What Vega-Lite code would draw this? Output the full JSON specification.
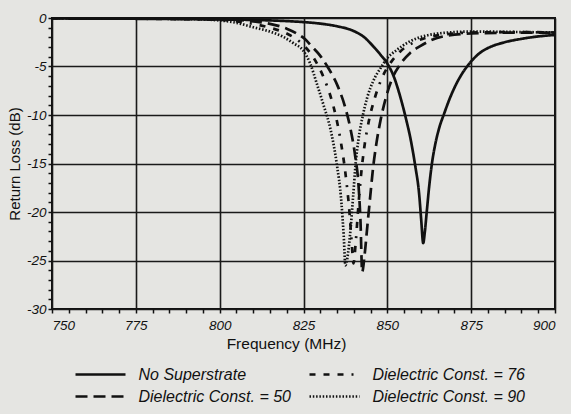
{
  "$schema": "https://vega.github.io/schema/vega-lite/v6.json",
  "autosize": {"type": "none"},
  "width": 503,
  "height": 291,
  "padding": {"left": 52, "top": 18, "right": 16, "bottom": 105},
  "background": "#e5e5e2",
  "config": {
    "view": {"stroke": "#111", "strokeWidth": 2},
    "axis": {
      "labelFont": "Liberation Sans",
      "labelFontStyle": "italic",
      "labelFontSize": 13.5,
      "labelColor": "#111",
      "titleFont": "Liberation Sans",
      "titleFontWeight": "normal",
      "titleColor": "#111",
      "tickColor": "#111",
      "tickWidth": 1.5,
      "gridColor": "#1a1a1a",
      "gridWidth": 1.6,
      "domain": false
    }
  },
  "data": {
    "values": [
      {"s": "No Superstrate", "f": 750, "rl": -0.05},
      {"s": "No Superstrate", "f": 775, "rl": -0.08},
      {"s": "No Superstrate", "f": 800, "rl": -0.15},
      {"s": "No Superstrate", "f": 810, "rl": -0.2},
      {"s": "No Superstrate", "f": 820, "rl": -0.32},
      {"s": "No Superstrate", "f": 825, "rl": -0.42},
      {"s": "No Superstrate", "f": 830, "rl": -0.58},
      {"s": "No Superstrate", "f": 835, "rl": -0.85},
      {"s": "No Superstrate", "f": 840, "rl": -1.35},
      {"s": "No Superstrate", "f": 843, "rl": -1.95},
      {"s": "No Superstrate", "f": 846, "rl": -3.0},
      {"s": "No Superstrate", "f": 848, "rl": -3.8},
      {"s": "No Superstrate", "f": 850, "rl": -4.7},
      {"s": "No Superstrate", "f": 852, "rl": -6.1},
      {"s": "No Superstrate", "f": 854, "rl": -8.3},
      {"s": "No Superstrate", "f": 855.5, "rl": -10.3},
      {"s": "No Superstrate", "f": 857, "rl": -12.6},
      {"s": "No Superstrate", "f": 858.3, "rl": -15.2},
      {"s": "No Superstrate", "f": 859.5, "rl": -18.2},
      {"s": "No Superstrate", "f": 860.1, "rl": -20.8},
      {"s": "No Superstrate", "f": 860.7, "rl": -23.2},
      {"s": "No Superstrate", "f": 861.2, "rl": -22.0},
      {"s": "No Superstrate", "f": 861.8, "rl": -19.8},
      {"s": "No Superstrate", "f": 862.5, "rl": -17.3},
      {"s": "No Superstrate", "f": 863.3, "rl": -15.0},
      {"s": "No Superstrate", "f": 864.3, "rl": -13.0},
      {"s": "No Superstrate", "f": 865.5, "rl": -11.3},
      {"s": "No Superstrate", "f": 867, "rl": -9.8},
      {"s": "No Superstrate", "f": 868.5, "rl": -8.4},
      {"s": "No Superstrate", "f": 870, "rl": -7.2},
      {"s": "No Superstrate", "f": 872, "rl": -5.9},
      {"s": "No Superstrate", "f": 874, "rl": -4.9},
      {"s": "No Superstrate", "f": 876, "rl": -4.1},
      {"s": "No Superstrate", "f": 878, "rl": -3.5},
      {"s": "No Superstrate", "f": 880, "rl": -3.1},
      {"s": "No Superstrate", "f": 885, "rl": -2.5},
      {"s": "No Superstrate", "f": 890, "rl": -2.15},
      {"s": "No Superstrate", "f": 895, "rl": -1.9},
      {"s": "No Superstrate", "f": 900, "rl": -1.75},

      {"s": "Dielectric Const. = 90", "f": 750, "rl": -0.02},
      {"s": "Dielectric Const. = 90", "f": 790, "rl": -0.1},
      {"s": "Dielectric Const. = 90", "f": 800, "rl": -0.25},
      {"s": "Dielectric Const. = 90", "f": 805, "rl": -0.5},
      {"s": "Dielectric Const. = 90", "f": 810, "rl": -0.95},
      {"s": "Dielectric Const. = 90", "f": 815, "rl": -1.4},
      {"s": "Dielectric Const. = 90", "f": 819, "rl": -1.95},
      {"s": "Dielectric Const. = 90", "f": 822, "rl": -2.6},
      {"s": "Dielectric Const. = 90", "f": 825, "rl": -3.4},
      {"s": "Dielectric Const. = 90", "f": 827, "rl": -4.7},
      {"s": "Dielectric Const. = 90", "f": 829, "rl": -6.8},
      {"s": "Dielectric Const. = 90", "f": 831, "rl": -9.0},
      {"s": "Dielectric Const. = 90", "f": 833, "rl": -11.4},
      {"s": "Dielectric Const. = 90", "f": 834.9, "rl": -15},
      {"s": "Dielectric Const. = 90", "f": 836.3, "rl": -19},
      {"s": "Dielectric Const. = 90", "f": 837, "rl": -22.5},
      {"s": "Dielectric Const. = 90", "f": 837.5, "rl": -25.5},
      {"s": "Dielectric Const. = 90", "f": 838.3, "rl": -24.2},
      {"s": "Dielectric Const. = 90", "f": 839.1, "rl": -21.5},
      {"s": "Dielectric Const. = 90", "f": 839.8, "rl": -18.4},
      {"s": "Dielectric Const. = 90", "f": 840.5, "rl": -15.2},
      {"s": "Dielectric Const. = 90", "f": 841.4, "rl": -12.5},
      {"s": "Dielectric Const. = 90", "f": 842.6, "rl": -10.2},
      {"s": "Dielectric Const. = 90", "f": 844, "rl": -8.2},
      {"s": "Dielectric Const. = 90", "f": 845.8, "rl": -6.5},
      {"s": "Dielectric Const. = 90", "f": 848.3, "rl": -5.0},
      {"s": "Dielectric Const. = 90", "f": 849.6, "rl": -4.3},
      {"s": "Dielectric Const. = 90", "f": 852.8, "rl": -3.3},
      {"s": "Dielectric Const. = 90", "f": 856.8, "rl": -2.4},
      {"s": "Dielectric Const. = 90", "f": 861.7, "rl": -1.8},
      {"s": "Dielectric Const. = 90", "f": 865, "rl": -1.6},
      {"s": "Dielectric Const. = 90", "f": 875, "rl": -1.4},
      {"s": "Dielectric Const. = 90", "f": 890, "rl": -1.45},
      {"s": "Dielectric Const. = 90", "f": 900, "rl": -1.5},

      {"s": "Dielectric Const. = 50", "f": 750, "rl": -0.02},
      {"s": "Dielectric Const. = 50", "f": 800, "rl": -0.12},
      {"s": "Dielectric Const. = 50", "f": 810, "rl": -0.35},
      {"s": "Dielectric Const. = 50", "f": 815, "rl": -0.6},
      {"s": "Dielectric Const. = 50", "f": 820, "rl": -1.1},
      {"s": "Dielectric Const. = 50", "f": 823, "rl": -1.6},
      {"s": "Dielectric Const. = 50", "f": 825.5, "rl": -2.2},
      {"s": "Dielectric Const. = 50", "f": 827.4, "rl": -2.9},
      {"s": "Dielectric Const. = 50", "f": 830, "rl": -3.9},
      {"s": "Dielectric Const. = 50", "f": 832.3, "rl": -5.1},
      {"s": "Dielectric Const. = 50", "f": 835.3, "rl": -7.1},
      {"s": "Dielectric Const. = 50", "f": 837.6, "rl": -9.4},
      {"s": "Dielectric Const. = 50", "f": 839, "rl": -11.4},
      {"s": "Dielectric Const. = 50", "f": 840.4, "rl": -14.2},
      {"s": "Dielectric Const. = 50", "f": 841.4, "rl": -17.2},
      {"s": "Dielectric Const. = 50", "f": 842, "rl": -21},
      {"s": "Dielectric Const. = 50", "f": 842.5, "rl": -26.2},
      {"s": "Dielectric Const. = 50", "f": 843.2, "rl": -24.5},
      {"s": "Dielectric Const. = 50", "f": 844, "rl": -21.6},
      {"s": "Dielectric Const. = 50", "f": 844.9, "rl": -18.4},
      {"s": "Dielectric Const. = 50", "f": 845.7, "rl": -15.6},
      {"s": "Dielectric Const. = 50", "f": 846.8, "rl": -12.8},
      {"s": "Dielectric Const. = 50", "f": 848, "rl": -10.5},
      {"s": "Dielectric Const. = 50", "f": 849.5, "rl": -8.3},
      {"s": "Dielectric Const. = 50", "f": 851.5, "rl": -6.2},
      {"s": "Dielectric Const. = 50", "f": 853.8, "rl": -4.8},
      {"s": "Dielectric Const. = 50", "f": 856.8, "rl": -3.6},
      {"s": "Dielectric Const. = 50", "f": 859.8, "rl": -2.9},
      {"s": "Dielectric Const. = 50", "f": 863, "rl": -2.3},
      {"s": "Dielectric Const. = 50", "f": 866.6, "rl": -1.9},
      {"s": "Dielectric Const. = 50", "f": 875, "rl": -1.6},
      {"s": "Dielectric Const. = 50", "f": 890, "rl": -1.5},
      {"s": "Dielectric Const. = 50", "f": 900, "rl": -1.5},

      {"s": "Dielectric Const. = 76", "f": 750, "rl": -0.02},
      {"s": "Dielectric Const. = 76", "f": 800, "rl": -0.18},
      {"s": "Dielectric Const. = 76", "f": 805, "rl": -0.35},
      {"s": "Dielectric Const. = 76", "f": 810, "rl": -0.6},
      {"s": "Dielectric Const. = 76", "f": 815, "rl": -1.0},
      {"s": "Dielectric Const. = 76", "f": 820, "rl": -1.6},
      {"s": "Dielectric Const. = 76", "f": 823, "rl": -2.2},
      {"s": "Dielectric Const. = 76", "f": 825, "rl": -2.8},
      {"s": "Dielectric Const. = 76", "f": 827, "rl": -3.6},
      {"s": "Dielectric Const. = 76", "f": 829.5, "rl": -5.0},
      {"s": "Dielectric Const. = 76", "f": 832, "rl": -7.0},
      {"s": "Dielectric Const. = 76", "f": 834, "rl": -9.2},
      {"s": "Dielectric Const. = 76", "f": 836, "rl": -12.5},
      {"s": "Dielectric Const. = 76", "f": 837.5, "rl": -16},
      {"s": "Dielectric Const. = 76", "f": 838.7, "rl": -20},
      {"s": "Dielectric Const. = 76", "f": 839.4, "rl": -23.3},
      {"s": "Dielectric Const. = 76", "f": 839.9, "rl": -25.3},
      {"s": "Dielectric Const. = 76", "f": 840.6, "rl": -23},
      {"s": "Dielectric Const. = 76", "f": 841.3, "rl": -19.7},
      {"s": "Dielectric Const. = 76", "f": 842.1, "rl": -16.4},
      {"s": "Dielectric Const. = 76", "f": 843.1, "rl": -13.4},
      {"s": "Dielectric Const. = 76", "f": 844.5, "rl": -10.6},
      {"s": "Dielectric Const. = 76", "f": 846.3, "rl": -8.2},
      {"s": "Dielectric Const. = 76", "f": 848.5, "rl": -6.1},
      {"s": "Dielectric Const. = 76", "f": 851, "rl": -4.6},
      {"s": "Dielectric Const. = 76", "f": 854, "rl": -3.4},
      {"s": "Dielectric Const. = 76", "f": 858, "rl": -2.5},
      {"s": "Dielectric Const. = 76", "f": 862, "rl": -2.0},
      {"s": "Dielectric Const. = 76", "f": 867, "rl": -1.7},
      {"s": "Dielectric Const. = 76", "f": 875, "rl": -1.5},
      {"s": "Dielectric Const. = 76", "f": 890, "rl": -1.45},
      {"s": "Dielectric Const. = 76", "f": 900, "rl": -1.5}
    ]
  },
  "mark": {"type": "line", "interpolate": "monotone", "stroke": "#111", "strokeWidth": 2.7, "clip": true},
  "encoding": {
    "x": {
      "field": "f", "type": "quantitative",
      "scale": {"domain": [750, 900], "nice": false, "zero": false},
      "axis": {
        "values": [750,755,760,765,770,775,780,785,790,795,800,805,810,815,820,825,830,835,840,845,850,855,860,865,870,875,880,885,890,895,900],
        "labelExpr": "datum.value % 25 === 0 ? '' + datum.value : ''",
        "gridOpacity": {"condition": {"test": "datum.value % 25 === 0", "value": 1}, "value": 0},
        "tickSize": 4,
        "labelPadding": 5,
        "title": "Frequency (MHz)",
        "titleFontSize": 15.5,
        "titleX": 234,
        "titleY": 34,
        "titleAlign": "center",
        "titleBaseline": "middle"
      }
    },
    "y": {
      "field": "rl", "type": "quantitative",
      "scale": {"domain": [-30, 0], "nice": false, "zero": false},
      "axis": {
        "values": [-30,-29,-28,-27,-26,-25,-24,-23,-22,-21,-20,-19,-18,-17,-16,-15,-14,-13,-12,-11,-10,-9,-8,-7,-6,-5,-4,-3,-2,-1,0],
        "labelExpr": "datum.value % 5 === 0 ? '' + datum.value : ''",
        "gridOpacity": {"condition": {"test": "datum.value % 5 === 0", "value": 1}, "value": 0},
        "tickSize": 4,
        "labelPadding": 2,
        "title": "Return Loss (dB)",
        "titleFontSize": 15,
        "titleX": -38,
        "titleY": 145.5,
        "titleAlign": "center",
        "titleBaseline": "middle"
      }
    },
    "strokeDash": {
      "field": "s", "type": "nominal",
      "scale": {
        "domain": ["No Superstrate", "Dielectric Const. = 76", "Dielectric Const. = 50", "Dielectric Const. = 90"],
        "range": [[1, 0], [6, 8, 6, 8, 6, 8, 2, 8], [12, 6], [1.5, 1.8]]
      },
      "legend": {
        "orient": "none",
        "direction": "horizontal",
        "legendX": 34.5,
        "legendY": 342.5,
        "columns": 2,
        "title": null,
        "symbolType": "M-2,0H2",
        "symbolSize": 625,
        "symbolStrokeWidth": 2.7,
        "symbolStrokeColor": "#111",
        "symbolFillColor": "transparent",
        "labelFont": "Liberation Sans",
        "labelFontStyle": "italic",
        "labelFontSize": 16,
        "labelColor": "#111",
        "labelOffset": 24,
        "labelLimit": 300,
        "columnPadding": 12,
        "rowPadding": 0,
        "padding": 0
      }
    }
  }
}
